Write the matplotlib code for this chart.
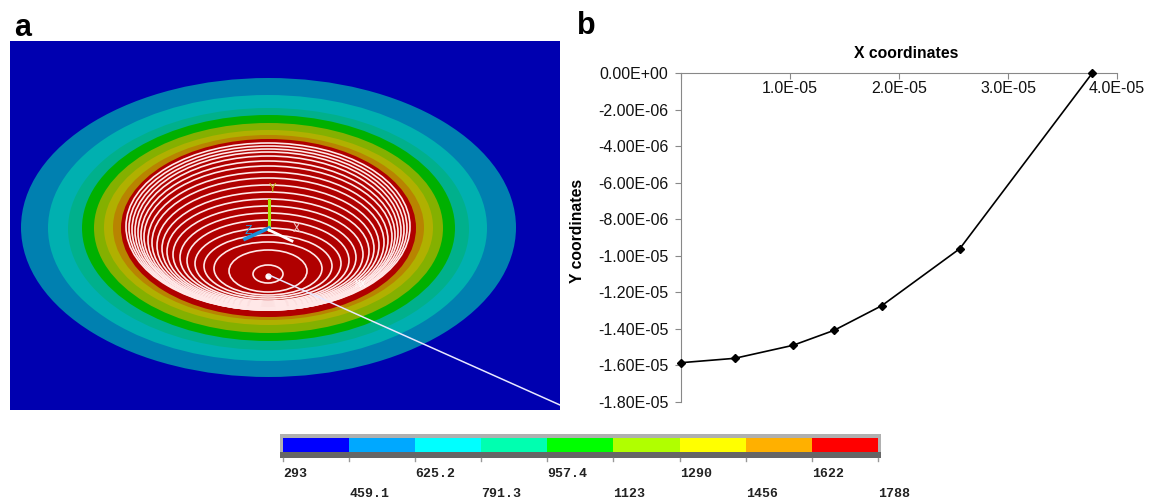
import matplotlib
matplotlib.use("Agg")
import matplotlib.pyplot as plt
from matplotlib.patches import Ellipse

W, H = 1153, 501

# contour bands of panel a, outermost first (image pixels)
band_colors = ["#0080b0", "#00b0b0", "#00b08c", "#00b000", "#84b000", "#b0b000", "#b88400", "#b00000"]
band_left = [21, 48, 68, 82, 94, 104, 113, 121]
band_right = [516, 487, 469, 455, 443, 433, 424, 416]
band_top = [78, 95, 108, 115, 123, 130, 135, 139]
band_bottom = [377, 361, 350, 341, 333, 325, 320, 317]

# white mesh rings inside the crater, innermost first
ring_halfwidth = [15, 39, 54, 64, 73, 81, 88, 95, 101, 106, 111, 116, 120, 124, 127, 130, 133, 136, 139, 142]
ring_top = [265, 250, 242, 235, 228, 220, 213, 206, 199, 192, 185, 178, 172, 166, 161, 156, 152, 149, 146, 143]
ring_bottom = [283, 292, 295, 297, 299, 301, 302, 303, 304, 305, 306, 307, 308, 308, 309, 309, 310, 310, 310, 310]

# colour scale
levels = [293, 459.1, 625.2, 791.3, 957.4, 1123, 1290, 1456, 1622, 1788]
level_labels = ["293", "459.1", "625.2", "791.3", "957.4", "1123", "1290", "1456", "1622", "1788"]
level_colors = ["#0000ff", "#00a8ff", "#00ffff", "#00ffb0", "#00ff00", "#b0ff00", "#ffff00", "#ffb000", "#ff0000"]

# panel b profile
x_coord = [0, 0.493e-5, 1.027e-5, 1.404e-5, 1.842e-5, 2.558e-5, 3.774e-5]
y_coord = [-1.585e-5, -1.561e-5, -1.490e-5, -1.408e-5, -1.273e-5, -0.961e-5, 0]
x_ticks = [0, 1e-5, 2e-5, 3e-5, 4e-5]
x_ticklabels = ["", "1.0E-05", "2.0E-05", "3.0E-05", "4.0E-05"]
y_ticks = [0, -2e-6, -4e-6, -6e-6, -8e-6, -1e-5, -1.2e-5, -1.4e-5, -1.6e-5, -1.8e-5]
y_ticklabels = ["0.00E+00", "-2.00E-06", "-4.00E-06", "-6.00E-06", "-8.00E-06",
                "-1.00E-05", "-1.20E-05", "-1.40E-05", "-1.60E-05", "-1.80E-05"]

plt.rcParams["font.family"] = ["Liberation Sans", "DejaVu Sans"]


def pixel_axes(left, top, right, bottom):
    return fig.add_axes([left / W, 1 - bottom / H, (right - left) / W, (bottom - top) / H])


fig = plt.figure(figsize=(W / 100, H / 100), dpi=100)

#%% panel a
ax_a = pixel_axes(10, 41, 560, 410)
ax_a.set_xlim(10, 560)
ax_a.set_ylim(410, 41)
ax_a.set_facecolor("#0000b0")
ax_a.set_xticks([])
ax_a.set_yticks([])
for s in ax_a.spines.values():
    s.set_visible(False)

for c, l, r, t, b in zip(band_colors, band_left, band_right, band_top, band_bottom):
    ax_a.add_patch(Ellipse(((l + r) / 2, (t + b) / 2), r - l, b - t, fc=c, ec="none"))

for w, t, b in zip(ring_halfwidth, ring_top, ring_bottom):
    ax_a.add_patch(Ellipse((268, (t + b) / 2), 2 * w, b - t, fc="none", ec="#ffe8e8", lw=1.2))

ax_a.plot([268], [276], "o", color="white", ms=3.5)
ax_a.plot([269, 560], [275, 405], color="#e8e8ff", lw=1.1)
ax_a.plot([269, 269], [230, 200], color="#a8e000", lw=2.2)
ax_a.plot([269, 245], [228, 239], color="#1890d8", lw=2.6)
ax_a.plot([269, 292], [230, 241], color="white", lw=2)
ax_a.text(273, 189, "Y", color="#c0c020", fontsize=9, family="Liberation Mono", ha="center", va="center")
ax_a.text(248, 231, "Z", color="#20a0e0", fontsize=9, family="Liberation Mono", ha="center", va="center")
ax_a.text(297, 229, "X", color="#f0c0c0", fontsize=9, family="Liberation Mono", ha="center", va="center")
ax_a.text(360, 284, "MX", color="white", fontsize=7, family="Liberation Mono", ha="center", va="center")

#%% colour scale
per_px = (levels[-1] - levels[0]) / (878 - 283)
ax_c = pixel_axes(280, 434, 881, 458)
ax_c.set_xlim(levels[0] - 3 * per_px, levels[-1] + 3 * per_px)
ax_c.set_ylim(458, 434)
ax_c.axis("off")
ax_c.axhspan(434, 438, color="#b0b0b0", lw=0)
ax_c.axhspan(452, 458, color="#666666", lw=0)
ax_c.axvspan(levels[0] - 3 * per_px, levels[-1] + 3 * per_px, ymin=0.25, ymax=0.85, color="#b0b0b0", lw=0)
for i, c in enumerate(level_colors):
    ax_c.fill_between([levels[i], levels[i + 1]], 438, 452, color=c, lw=0)
for i, (v, lab) in enumerate(zip(levels, level_labels)):
    ax_c.plot([v, v], [458, 461], color="#999999", lw=1, clip_on=False)
    ax_c.annotate(lab, (v, 458), xytext=(0, -10 if i % 2 == 0 else -30), textcoords="offset pixels",
                  ha="left", va="top", fontsize=9.5, fontweight="bold", family="Liberation Mono",
                  color="#222222", annotation_clip=False)

#%% panel b
ax_b = pixel_axes(681, 73, 1117, 402)
ax_b.plot(x_coord, y_coord, color="black", lw=1.2, marker="D", ms=4.5, clip_on=False, zorder=5)
ax_b.set_xlim(0, 4e-5)
ax_b.set_ylim(-1.8e-5, 0)
ax_b.spines["right"].set_visible(False)
ax_b.spines["bottom"].set_visible(False)
ax_b.spines["top"].set_color("#888888")
ax_b.spines["left"].set_color("#888888")
ax_b.xaxis.tick_top()
ax_b.set_xticks(x_ticks, [])
ax_b.set_yticks(y_ticks, y_ticklabels)
ax_b.tick_params(axis="x", direction="in", length=4, color="#888888")
for v, lab in zip(x_ticks, x_ticklabels):
    ax_b.text(v, -4.2e-7, lab, ha="center", va="top", fontsize=11.5, color="#111111")
ax_b.tick_params(axis="y", direction="out", length=4, color="#888888", labelsize=11.5, pad=5, labelcolor="#111111")

fig.text(906 / W, 1 - 54 / H, "X coordinates", ha="center", va="center", fontsize=11.3, fontweight="bold")
fig.text(578 / W, 1 - 231 / H, "Y coordinates", rotation=90, ha="center", va="center",
         fontsize=11.3, fontweight="bold")

fig.text(23 / W, 1 - 28 / H, "a", ha="center", va="center", fontsize=22, fontweight="bold")
fig.text(586 / W, 1 - 26 / H, "b", ha="center", va="center", fontsize=22, fontweight="bold")

fig.savefig("out.png", dpi=100)
